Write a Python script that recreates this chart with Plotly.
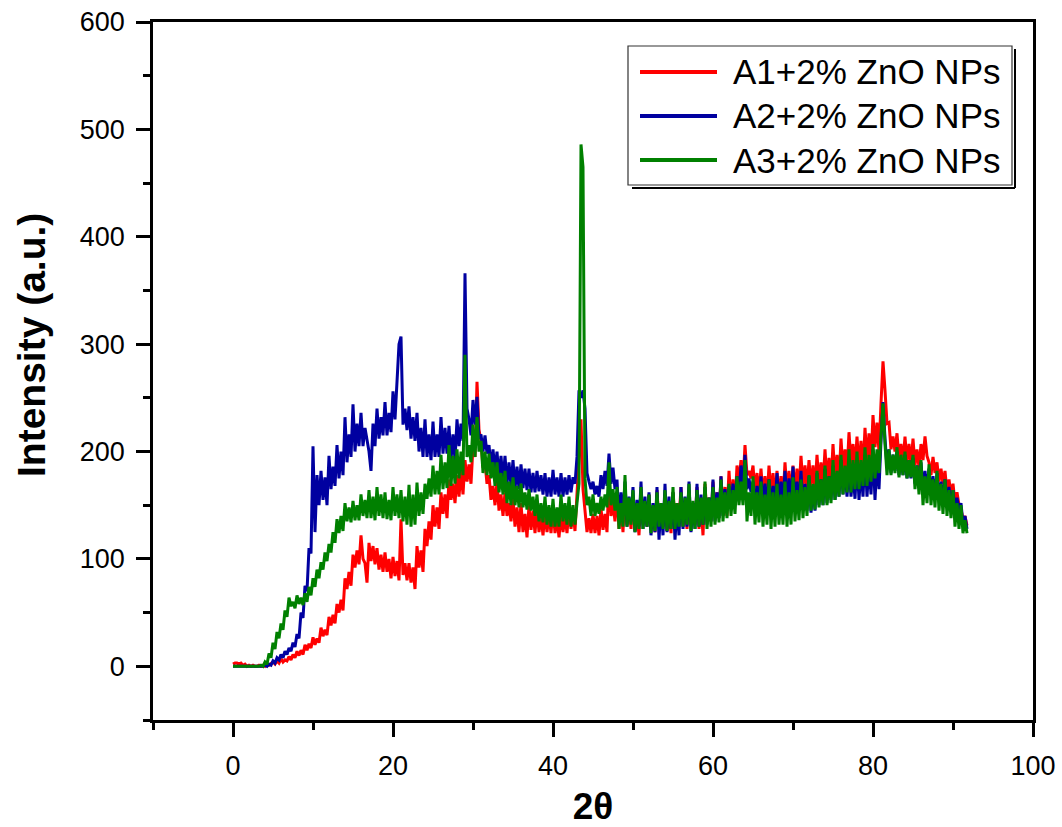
import plotly.graph_objects as go

# XRD scans, sampled every 0.25 degree from 2θ = 0 to 91.75
STEP = 0.25

a1_intensity = [
    2, 3, 3, 2, 3, 1, 2, 0, 1, 0, 1, 0, 0, 1, 0, 1, 0, 2, 1, 3,
    4, 2, 5, 3, 7, 4, 6, 5, 9, 6, 11, 8, 14, 10, 15, 11, 20, 15, 21, 17,
    27, 20, 26, 22, 36, 28, 34, 29, 46, 38, 48, 40, 58, 50, 62, 52, 82, 72, 88, 75,
    104, 92, 108, 95, 122, 100, 96, 78, 115, 98, 112, 95, 110, 90, 104, 88, 106, 88, 100, 82,
    102, 84, 98, 80, 137, 85, 96, 80, 96, 78, 92, 72, 112, 92, 108, 88, 128, 112, 135, 118,
    150, 130, 148, 128, 162, 142, 160, 138, 174, 155, 170, 152, 178, 158, 182, 160, 192, 172, 188, 170,
    205, 195, 265, 220, 210, 185, 190, 170, 178, 155, 168, 150, 172, 145, 160, 140, 162, 140, 152, 135,
    157, 130, 148, 125, 152, 125, 142, 120, 150, 127, 145, 124, 147, 125, 140, 122, 143, 125, 141, 124,
    147, 124, 138, 120, 142, 125, 140, 124, 147, 128, 145, 126, 162, 200, 230, 165, 142, 125, 138, 124,
    142, 124, 140, 122, 147, 127, 142, 125, 176, 140, 152, 135, 162, 128, 150, 125, 167, 132, 152, 128,
    157, 126, 142, 122, 162, 132, 152, 130, 160, 128, 147, 125, 164, 132, 150, 130, 152, 126, 144, 124,
    162, 136, 152, 135, 167, 130, 154, 128, 162, 134, 152, 132, 167, 128, 152, 122, 170, 138, 157, 135,
    172, 140, 162, 138, 177, 144, 167, 140, 182, 152, 174, 150, 187, 172, 192, 170, 206, 178, 182, 175,
    187, 162, 180, 160, 184, 158, 177, 155, 187, 160, 180, 158, 182, 158, 177, 155, 190, 162, 182, 160,
    187, 164, 184, 162, 196, 167, 187, 165, 192, 167, 187, 165, 197, 170, 190, 168, 202, 172, 194, 170,
    207, 175, 197, 172, 212, 182, 202, 180, 218, 188, 207, 185, 214, 185, 210, 182, 222, 192, 217, 190,
    234, 204, 227, 200, 245, 284, 257, 226, 227, 202, 214, 200, 217, 193, 207, 190, 214, 190, 207, 188,
    212, 187, 202, 185, 207, 192, 214, 196, 190, 178, 195, 180, 190, 172, 184, 170, 182, 162, 174, 160,
    170, 152, 162, 150, 147, 136, 140, 131,
]

a2_intensity = [
    0, 0, 0, 0, 0, 0, 0, 0, 0, 0, 0, 0, 0, 0, 0, 0, 1, 0, 2, 1,
    5, 3, 8, 6, 11, 8, 14, 11, 17, 14, 22, 18, 30, 26, 50, 45, 75, 70, 110, 105,
    205, 125, 178, 150, 182, 155, 176, 150, 196, 165, 186, 168, 206, 175, 200, 178, 232, 190, 216, 195,
    244, 200, 226, 205, 236, 205, 222, 210, 200, 182, 226, 205, 240, 212, 232, 215, 246, 215, 236, 218,
    256, 230, 260, 300, 307, 225, 240, 220, 242, 212, 232, 210, 236, 200, 222, 195, 230, 195, 216, 192,
    228, 195, 216, 195, 232, 198, 222, 198, 224, 192, 216, 192, 230, 205, 226, 210, 366, 240, 230, 215,
    248, 225, 251, 212, 216, 200, 215, 198, 206, 185, 202, 182, 200, 176, 196, 172, 196, 170, 190, 168,
    192, 165, 186, 165, 188, 166, 184, 164, 184, 162, 180, 162, 182, 163, 178, 160, 180, 158, 176, 158,
    183, 160, 176, 158, 180, 158, 176, 160, 178, 162, 176, 170, 195, 257, 250, 257, 240, 180, 172, 165,
    172, 160, 168, 158, 178, 165, 182, 168, 198, 170, 185, 165, 174, 135, 162, 140, 172, 130, 158, 135,
    167, 125, 155, 130, 172, 128, 158, 130, 162, 122, 152, 125, 167, 118, 152, 122, 170, 125, 158, 128,
    162, 118, 148, 122, 167, 128, 158, 130, 172, 125, 152, 128, 170, 130, 160, 132, 167, 132, 157, 135,
    174, 135, 162, 138, 177, 140, 165, 145, 168, 150, 170, 152, 177, 160, 187, 165, 197, 165, 175, 162,
    172, 148, 168, 150, 177, 150, 170, 150, 174, 148, 168, 148, 180, 150, 172, 152, 182, 152, 175, 150,
    186, 150, 172, 148, 182, 146, 170, 145, 177, 143, 168, 145, 180, 150, 174, 150, 184, 152, 177, 155,
    187, 155, 180, 158, 192, 160, 184, 158, 187, 158, 180, 156, 192, 155, 184, 158, 197, 158, 187, 160,
    202, 155, 192, 165, 210, 246, 212, 185, 202, 180, 197, 182, 200, 178, 194, 178, 197, 175, 192, 175,
    194, 170, 187, 170, 190, 165, 182, 165, 184, 160, 177, 160, 180, 155, 172, 155, 174, 150, 167, 150,
    164, 145, 157, 145, 152, 132, 140, 128,
]

a3_intensity = [
    0, 0, 0, 0, 0, 0, 0, 0, 0, 0, 0, 0, 0, 0, 1, 0, 4, 2, 12, 8,
    22, 16, 32, 26, 40, 34, 52, 46, 64, 56, 60, 54, 66, 58, 64, 57, 68, 60, 74, 66,
    82, 74, 90, 82, 97, 90, 106, 98, 114, 106, 125, 115, 137, 124, 140, 126, 152, 135, 148, 134,
    154, 136, 150, 136, 160, 140, 155, 138, 164, 138, 158, 136, 167, 140, 160, 138, 162, 137, 155, 136,
    167, 140, 160, 138, 164, 135, 158, 132, 169, 130, 160, 132, 171, 140, 162, 142, 170, 156, 175, 158,
    187, 160, 182, 160, 197, 165, 190, 166, 206, 168, 196, 170, 202, 175, 200, 178, 290, 195, 206, 190,
    225, 195, 232, 200, 210, 180, 200, 178, 198, 175, 190, 168, 190, 162, 180, 160, 182, 152, 172, 150,
    176, 150, 168, 148, 170, 148, 162, 146, 165, 145, 158, 140, 160, 135, 152, 134, 158, 132, 150, 130,
    156, 130, 148, 130, 160, 135, 152, 132, 158, 130, 150, 132, 152, 170, 486, 465, 175, 150, 158, 140,
    160, 140, 152, 142, 158, 145, 160, 148, 190, 150, 165, 145, 167, 128, 152, 130, 178, 130, 157, 132,
    164, 125, 152, 128, 167, 128, 154, 130, 160, 124, 150, 126, 162, 130, 152, 128, 164, 126, 154, 128,
    167, 128, 152, 130, 162, 130, 157, 132, 170, 126, 154, 128, 164, 130, 157, 132, 172, 128, 157, 130,
    167, 132, 157, 134, 174, 135, 162, 138, 170, 140, 164, 142, 177, 150, 172, 150, 192, 135, 162, 140,
    177, 132, 162, 134, 172, 130, 160, 132, 174, 128, 162, 130, 170, 132, 160, 132, 172, 130, 162, 132,
    176, 135, 164, 136, 174, 138, 167, 140, 178, 145, 170, 146, 182, 148, 174, 150, 187, 150, 177, 152,
    192, 155, 182, 158, 197, 160, 187, 162, 202, 162, 192, 165, 200, 165, 192, 168, 204, 168, 197, 172,
    207, 175, 202, 180, 215, 245, 207, 178, 202, 178, 197, 180, 204, 176, 197, 178, 200, 175, 192, 176,
    197, 165, 187, 160, 192, 150, 177, 152, 188, 150, 174, 148, 182, 145, 170, 142, 174, 140, 164, 138,
    164, 130, 152, 128, 150, 124, 136, 124,
]

series_names = ["A1+2% ZnO NPs", "A2+2% ZnO NPs", "A3+2% ZnO NPs"]
series_values = [a1_intensity, a2_intensity, a3_intensity]
series_colors = ["#ff0000", "#0000a0", "#008000"]

x_ticks = [0, 20, 40, 60, 80, 100]
y_ticks = [0, 100, 200, 300, 400, 500, 600]

FONT = "Liberation Sans, Arial, sans-serif"
W, H = 1062, 827
L, R, T, B = 153, 29, 22, 107

fig = go.Figure()
for name, values, color in zip(series_names, series_values, series_colors):
    fig.add_trace(go.Scatter(
        x=[round(i * STEP, 2) for i in range(len(values))],
        y=values,
        mode="lines",
        name=name,
        line=dict(color=color, width=3),
        showlegend=False,
    ))


def px(x_pix, y_pix):
    """Convert page pixels to paper coordinates of the plot area."""
    return (x_pix - L) / (W - L - R), (H - B - y_pix) / (H - T - B)


# Legend frame with a small drop shadow
bx0, by0 = px(628, 46)
bx1, by1 = px(1012, 185)
sx0, sy0 = px(632, 49)
sx1, sy1 = px(1015, 188)
shapes = [
    dict(type="line", xref="paper", yref="paper", x0=sx0, y0=sy1, x1=sx1, y1=sy1,
         line=dict(color="black", width=2)),
    dict(type="line", xref="paper", yref="paper", x0=sx1, y0=sy0, x1=sx1, y1=sy1,
         line=dict(color="black", width=2)),
    dict(type="rect", xref="paper", yref="paper", x0=bx0, y0=by1, x1=bx1, y1=by0,
         line=dict(color="#333333", width=1.2), fillcolor="white"),
]
annotations = []
for i, (name, color) in enumerate(zip(series_names, series_colors)):
    yy = 72 + i * 44
    lx0, ly = px(640, yy)
    lx1, _ = px(717, yy)
    shapes.append(dict(type="line", xref="paper", yref="paper", x0=lx0, y0=ly, x1=lx1, y1=ly,
                       line=dict(color=color, width=4)))
    tx, _ = px(731, yy)
    annotations.append(dict(xref="paper", yref="paper", x=tx, y=ly, text=name,
                            showarrow=False, xanchor="left", yanchor="middle",
                            font=dict(family=FONT, size=35, color="black")))

# Y axis title
ytx, yty = px(31, 345)
annotations.append(dict(xref="paper", yref="paper", x=ytx, y=yty, text="Intensity (a.u.)",
                        textangle=-90, showarrow=False, xanchor="center", yanchor="middle",
                        font=dict(family=FONT, size=39, color="black", weight="bold")))

axis_common = dict(
    showline=True, linecolor="black", linewidth=2.6, mirror=True,
    ticks="outside", ticklen=14, tickwidth=2.6, tickcolor="black",
    showgrid=False, zeroline=False, automargin=False,
    tickfont=dict(family=FONT, size=27, color="black"),
)

fig.update_layout(
    width=W, height=H,
    margin=dict(l=L, r=R, t=T, b=B),
    paper_bgcolor="white", plot_bgcolor="white",
    shapes=shapes, annotations=annotations,
    xaxis=dict(
        range=[-10, 100], tickvals=x_ticks,
        minor=dict(dtick=10, tick0=0, ticks="outside", ticklen=7, tickwidth=2.6, tickcolor="black"),
        title=dict(text="2θ", font=dict(family=FONT, size=37, color="black", weight="bold"), standoff=26),
        ticklabelstandoff=6,
        **axis_common,
    ),
    yaxis=dict(
        range=[-50, 600], tickvals=y_ticks,
        minor=dict(dtick=50, tick0=0, ticks="outside", ticklen=7, tickwidth=2.6, tickcolor="black"),
        ticklabelstandoff=6,
        **axis_common,
    ),
)

fig.write_html("out.html")
